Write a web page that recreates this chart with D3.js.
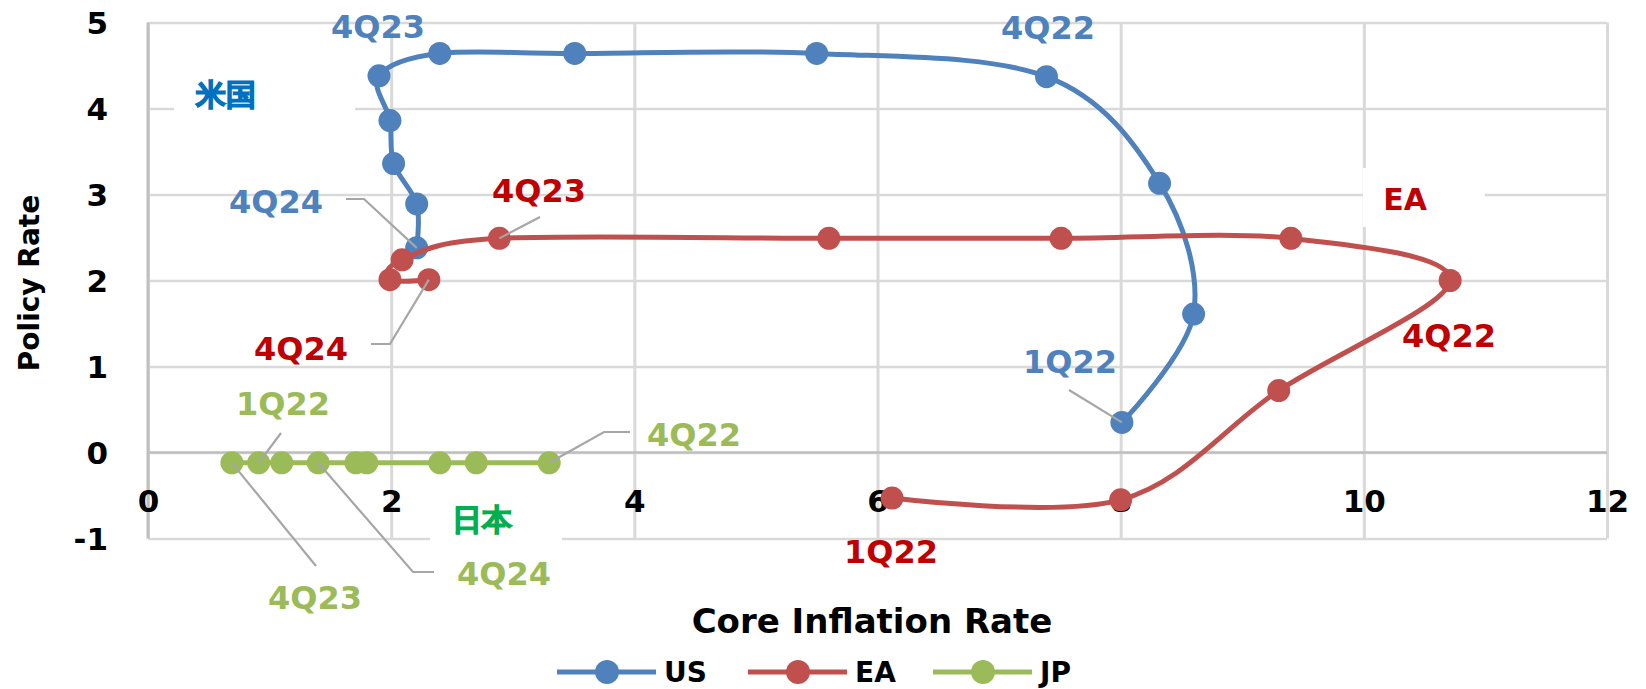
<!DOCTYPE html>
<html>
<head>
<meta charset="utf-8">
<script src="https://cdn.jsdelivr.net/npm/d3@7"></script>
<style>
  body { margin: 0; background: #fff; }
  svg text { font-family: "DejaVu Sans", sans-serif; font-weight: bold; }
</style>
</head>
<body>
<div id="chart"></div>
<script>
// values
const usX = [8.01, 8.60, 8.32, 7.39, 5.50, 3.51, 2.40, 1.90, 1.99, 2.02, 2.21, 2.21];
const usY = [0.35, 1.61, 3.13, 4.37, 4.64, 4.64, 4.64, 4.38, 3.86, 3.36, 2.89, 2.38];
const eaX = [6.12, 8.00, 9.30, 10.71, 9.40, 7.51, 5.60, 2.89, 2.09, 1.99, 2.31];
const eaY = [-0.53, -0.55, 0.72, 2.00, 2.49, 2.49, 2.49, 2.49, 2.24, 2.01, 2.01];
const jpX = [0.91, 1.80, 2.70, 3.30, 2.40, 1.71, 1.10, 0.69, 1.40];
const jpY = [-0.12, -0.12, -0.12, -0.12, -0.12, -0.12, -0.12, -0.12, -0.12];
const xTicks = [0, 2, 4, 6, 8, 10, 12];
const yTicks = [-1, 0, 1, 2, 3, 4, 5];
const seriesNames = ["US", "EA", "JP"];

const W = 1646, H = 689;
const margin = { top: 22.5, right: 39, bottom: 150.5, left: 148 };

const series = [
  { name: "US", xs: usX, ys: usY, color: "#4F81BD", label: "#4F81BD" },
  { name: "EA", xs: eaX, ys: eaY, color: "#C0504D", label: "#C00000" },
  { name: "JP", xs: jpX, ys: jpY, color: "#9BBB59", label: "#9BBB59" }
];

// label placement (pixels) and leader elbows
const notes = [
  { s: 0, i: 0, text: "1Q22", tx: 1070, ty: 361, lead: [[1069, 390]] },
  { s: 0, i: 3, text: "4Q22", tx: 1048, ty: 27 },
  { s: 0, i: 7, text: "4Q23", tx: 378, ty: 26 },
  { s: 0, i: 11, text: "4Q24", tx: 276, ty: 201, lead: [[346, 199], [364, 199]] },
  { s: 1, i: 0, text: "1Q22", tx: 891, ty: 551 },
  { s: 1, i: 3, text: "4Q22", tx: 1449, ty: 335 },
  { s: 1, i: 7, text: "4Q23", tx: 539, ty: 190, lead: [[540, 217]] },
  { s: 1, i: 10, text: "4Q24", tx: 301, ty: 348, lead: [[371, 344], [390, 344]] },
  { s: 2, i: 0, text: "1Q22", tx: 283, ty: 403, lead: [[281, 433]] },
  { s: 2, i: 3, text: "4Q22", tx: 694, ty: 434, lead: [[630, 432], [604, 432]] },
  { s: 2, i: 7, text: "4Q23", tx: 315, ty: 597, lead: [[316, 566]] },
  { s: 2, i: 8, text: "4Q24", tx: 504, ty: 573, lead: [[434, 572], [413, 572]] }
];

const svg = d3.select("#chart").append("svg")
  .attr("width", W).attr("height", H);

const x = d3.scaleLinear().domain([0, 12]).range([margin.left, W - margin.right]);
const y = d3.scaleLinear().domain([-1, 5]).range([H - margin.bottom, margin.top]);

// gridlines
svg.append("g")
  .attr("transform", `translate(${x(0)},0)`)
  .call(d3.axisLeft(y).tickValues(yTicks).tickSize(-(x(12) - x(0))).tickFormat(""))
  .call(g => g.select(".domain").remove())
  .call(g => g.selectAll("line").attr("stroke", "#d9d9d9").attr("stroke-width", 2.5));

svg.append("g")
  .attr("transform", `translate(0,${y(-1)})`)
  .call(d3.axisBottom(x).tickValues(xTicks).tickSize(-(y(-1) - y(5))).tickFormat(""))
  .call(g => g.select(".domain").remove())
  .call(g => g.selectAll("line").attr("stroke", "#d9d9d9").attr("stroke-width", 3));

// axis lines
svg.append("line")
  .attr("x1", x(0)).attr("x2", x(0)).attr("y1", y(5)).attr("y2", y(-1))
  .attr("stroke", "#bfbfbf").attr("stroke-width", 3);
svg.append("line")
  .attr("x1", x(0)).attr("x2", x(12)).attr("y1", y(0)).attr("y2", y(0))
  .attr("stroke", "#bfbfbf").attr("stroke-width", 2.5);

// tick labels
svg.append("g")
  .attr("transform", `translate(${x(0)},0)`)
  .call(d3.axisLeft(y).tickValues(yTicks).tickSize(0).tickPadding(40).tickFormat(d => String(d)))
  .call(g => g.select(".domain").remove())
  .call(g => g.selectAll("text")
    .attr("fill", "#000").attr("font-size", 31).attr("font-family", null).attr("dy", "0.36em"));

svg.append("g")
  .attr("transform", `translate(0,${y(0)})`)
  .call(d3.axisBottom(x).tickValues(xTicks).tickSize(0).tickFormat(d => String(d)))
  .call(g => g.select(".domain").remove())
  .call(g => g.selectAll("text")
    .attr("fill", "#000").attr("font-size", 31).attr("font-family", null)
    .attr("y", 48).attr("dy", "0.36em"));

// white boxes behind the country notes
const boxes = [
  { x0: 174, x1: 355, y0: 70, y1: 130, text: "米国", color: "#0070C0", cx: 226, cy: 94 },
  { x0: 430, x1: 562, y0: 500, y1: 552, text: "日本", color: "#00B050", cx: 482, cy: 519 },
  { x0: 1363, x1: 1485, y0: 168, y1: 227, text: "EA", color: "#C00000", cx: 1405, cy: 199 }
];
svg.append("g").selectAll("rect").data(boxes).join("rect")
  .attr("x", d => d.x0).attr("y", d => d.y0)
  .attr("width", d => d.x1 - d.x0).attr("height", d => d.y1 - d.y0)
  .attr("fill", "#fff");

// series
const line = d3.line()
  .x(d => x(d[0])).y(d => y(d[1]))
  .curve(d3.curveCatmullRom.alpha(0));

series.forEach(s => {
  const pts = s.xs.map((v, i) => [v, s.ys[i]]);
  const g = svg.append("g");
  g.append("path")
    .attr("d", line(pts))
    .attr("fill", "none")
    .attr("stroke", s.color)
    .attr("stroke-width", 5)
    .attr("stroke-linejoin", "round");
  g.selectAll("circle").data(pts).join("circle")
    .attr("cx", d => x(d[0])).attr("cy", d => y(d[1]))
    .attr("r", 11.5)
    .attr("fill", s.color);
});

// leader lines
notes.filter(n => n.lead).forEach(n => {
  const s = series[n.s];
  const pts = n.lead.concat([[x(s.xs[n.i]), y(s.ys[n.i])]]);
  svg.append("path")
    .attr("d", d3.line()(pts))
    .attr("fill", "none")
    .attr("stroke", "#a6a6a6")
    .attr("stroke-width", 2.2);
});

// quarter labels
svg.append("g").selectAll("text").data(notes).join("text")
  .attr("x", d => d.tx).attr("y", d => d.ty)
  .attr("dy", "0.36em")
  .attr("text-anchor", "middle")
  .attr("font-size", 32)
  .attr("fill", d => series[d.s].label)
  .text(d => d.text);

// country notes
svg.append("g").selectAll("text").data(boxes).join("text")
  .attr("x", d => d.cx).attr("y", d => d.cy)
  .attr("dy", "0.36em")
  .attr("text-anchor", "middle")
  .attr("font-size", 30)
  .attr("font-family", d => d.text === "EA" ? null : "'Noto Sans CJK JP', sans-serif")
  .attr("font-weight", d => d.text === "EA" ? null : 900)
  .attr("stroke", d => d.text === "EA" ? null : d.color)
  .attr("stroke-width", d => d.text === "EA" ? null : 1.2)
  .attr("fill", d => d.color)
  .text(d => d.text);

// axis titles
svg.append("text")
  .attr("transform", "translate(29,283) rotate(-90)")
  .attr("text-anchor", "middle").attr("dy", "0.36em")
  .attr("font-size", 28).attr("fill", "#000")
  .text("Policy Rate");

svg.append("text")
  .attr("x", 872).attr("y", 621).attr("dy", "0.36em")
  .attr("text-anchor", "middle")
  .attr("font-size", 34).attr("fill", "#000")
  .text("Core Inflation Rate");

// legend
const legendX = [557, 748, 933];
const legend = svg.append("g").selectAll("g").data(series).join("g")
  .attr("transform", (d, i) => `translate(${legendX[i]},672)`);
legend.append("line")
  .attr("x1", 0).attr("x2", 99)
  .attr("stroke", d => d.color).attr("stroke-width", 5);
legend.append("circle")
  .attr("cx", 50).attr("r", 12).attr("fill", d => d.color);
legend.append("text")
  .attr("x", 107).attr("dy", "0.36em")
  .attr("font-size", 28).attr("fill", "#000")
  .text((d, i) => seriesNames[i]);
</script>
</body>
</html>
